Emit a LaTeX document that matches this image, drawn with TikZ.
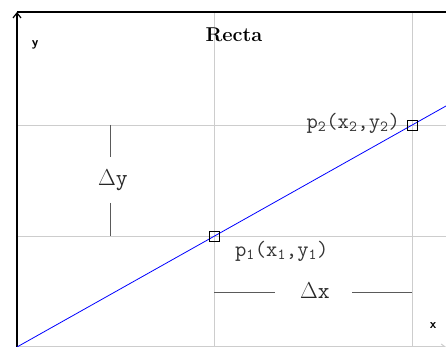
\RequirePackage{fix-cm}
\documentclass[tikz,border=0pt]{standalone}
\usepackage{fontspec}
\usetikzlibrary{positioning, arrows.meta, calc}
\definecolor{cGrid}{RGB}{205,205,205}
\definecolor{cDim}{RGB}{90,90,90}

\begin{document}
\begin{tikzpicture}[x=1pt, y=1pt, thick,
    gridline/.style={cGrid, line width=0.9pt},
    dimline/.style={cDim, line width=0.9pt},
    pointbox/.style={draw=black, line width=0.8pt, minimum size=10pt, inner sep=0pt},
    dimlabel/.style={font=\ttfamily\fontsize{23}{23}\selectfont, text=black!85},
    ptlabel/.style={font=\ttfamily\fontsize{22}{22}\selectfont, text=black!80}]
    \useasboundingbox (0,0) rectangle (446,347);

    % Coordinates
    \coordinate (O) at (17,0);
    \coordinate (Ytop) at (17,335);
    \coordinate (Rtop) at (446,335);
    \coordinate (Xend) at (446,0);

    % Grid
    \draw[gridline] (214,0) -- (214,335);
    \draw[gridline] (412,0) -- (412,335);
    \draw[gridline] (17,111) -- (446,111);
    \draw[gridline] (17,222) -- (446,222);

    % Axes
    \draw[cGrid, line width=1pt, -{Straight Barb[length=4pt,width=6pt]}] (O) -- (Xend);
    \draw[black, line width=1.2pt] (Ytop) -- (Rtop);
    \draw[black, line width=1.2pt, -{Straight Barb[length=5pt,width=8pt]}] (O) -- (Ytop);

    % Line
    \coordinate (Lend) at (446,241);
    \draw[blue, line width=0.8pt] (O) -- (Lend);

    % Points
    \node[pointbox] (p1) at (214,111) {};
    \node[pointbox] (p2) at (412,222) {};
    \node[ptlabel, below right=-4pt and 12pt of p1] (lp1) {p\textsubscript{1}(x\textsubscript{1},y\textsubscript{1})};
    \node[ptlabel, left=3pt of p2, yshift=2pt] (lp2) {p\textsubscript{2}(x\textsubscript{2},y\textsubscript{2})};

    % Delta y
    \node[dimlabel] (dy) at (113,167) {$\Delta$y};
    \coordinate (dyT) at (110,222);
    \coordinate (dyB) at (110,111);
    \draw[dimline] (dyT) -- (110,190);
    \draw[dimline] (110,144) -- (dyB);

    % Delta x
    \node[dimlabel] (dx) at (315,56) {$\Delta$x};
    \coordinate (dxL) at (214,55);
    \coordinate (dxR) at (412,55);
    \draw[dimline] (dxL) -- (275,55);
    \draw[dimline] (352,55) -- (dxR);

    % Labels
    \node[font=\fontsize{20}{20}\selectfont\bfseries] (title) at (234,312) {Recta};
    \node[font=\fontsize{13}{13}\selectfont\sffamily\bfseries] (ly) at (35,302) {y};
    \node[font=\fontsize{13}{13}\selectfont\sffamily\bfseries] (lx) at (433,21) {x};
\end{tikzpicture}
\end{document}
